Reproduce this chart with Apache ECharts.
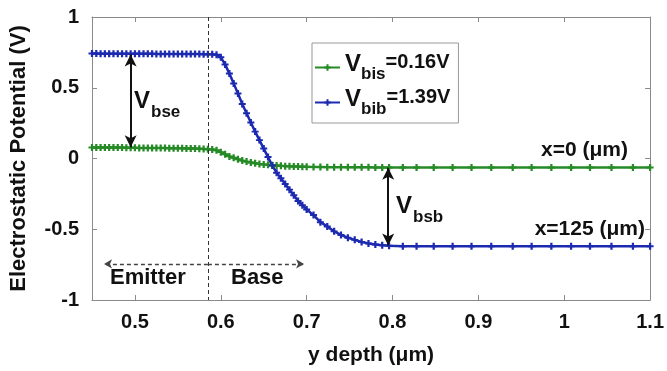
<!DOCTYPE html>
<html>
<head>
<meta charset="utf-8">
<script src="https://cdn.jsdelivr.net/npm/echarts@6/dist/echarts.min.js"></script>
<style>
  html, body { margin: 0; padding: 0; background: #fff; }
  #chart { width: 667px; height: 371px; }
</style>
</head>
<body>
<div id="chart"></div>
<script>
// y depth (um) sample points
const yDepth = [
  0.450, 0.455, 0.460, 0.465, 0.470, 0.475, 0.480, 0.485, 0.490, 0.495,
  0.500, 0.505, 0.510, 0.515, 0.520, 0.525, 0.530, 0.535, 0.540, 0.545,
  0.550, 0.555, 0.560, 0.565, 0.570, 0.575, 0.580, 0.585, 0.590,
  0.595, 0.600, 0.605, 0.610, 0.615, 0.620, 0.625, 0.630, 0.635, 0.640,
  0.645, 0.650, 0.655, 0.660, 0.665, 0.670, 0.675, 0.680, 0.685, 0.690,
  0.695, 0.700,
  0.708, 0.716, 0.724, 0.732, 0.740, 0.748, 0.756, 0.764, 0.772, 0.780,
  0.788, 0.796,
  0.812, 0.828, 0.848, 0.870, 0.892, 0.915, 0.940, 0.962, 0.985, 1.008,
  1.030, 1.055, 1.080, 1.100
];
// x = 0 um, V_bis = 0.16 V (green)
const potentialX0 = [
  0.078, 0.078, 0.078, 0.078, 0.078, 0.077, 0.077, 0.077, 0.076, 0.076,
  0.076, 0.075, 0.075, 0.075, 0.075, 0.074, 0.074, 0.074, 0.073, 0.073,
  0.072, 0.072, 0.071, 0.071, 0.070, 0.069, 0.068, 0.066, 0.064,
  0.058, 0.045, 0.030, 0.015, 0.005, -0.005, -0.015, -0.022, -0.028, -0.033,
  -0.038, -0.042, -0.045, -0.048, -0.050, -0.052, -0.054, -0.055, -0.056, -0.057,
  -0.058, -0.059,
  -0.060, -0.060, -0.061, -0.061, -0.061, -0.062, -0.062, -0.062, -0.062, -0.063,
  -0.063, -0.063,
  -0.063, -0.063, -0.063, -0.063, -0.063, -0.063, -0.063, -0.063, -0.063, -0.063,
  -0.063, -0.063, -0.063, -0.063
];
// x = 125 um, V_bib = 1.39 V (blue)
const potentialX125 = [
  0.742, 0.742, 0.741, 0.741, 0.741, 0.740, 0.740, 0.740, 0.740, 0.740,
  0.740, 0.740, 0.740, 0.740, 0.740, 0.739, 0.739, 0.739, 0.739, 0.739,
  0.739, 0.738, 0.738, 0.738, 0.738, 0.738, 0.737, 0.737, 0.736,
  0.733, 0.715, 0.665, 0.600, 0.530, 0.460, 0.385, 0.320, 0.255, 0.190,
  0.130, 0.070, 0.010, -0.050, -0.100, -0.140, -0.180, -0.220, -0.260, -0.300,
  -0.330, -0.360,
  -0.400, -0.450, -0.480, -0.515, -0.540, -0.560, -0.575, -0.590, -0.600, -0.608,
  -0.613, -0.617,
  -0.620, -0.620, -0.620, -0.620, -0.620, -0.620, -0.620, -0.620, -0.620, -0.620,
  -0.620, -0.620, -0.620, -0.620
];

const seriesNames = ["Vbis", "Vbib"];
const legendSub = ["bis", "bib"];
const legendValue = ["=0.16V", "=1.39V"];
const xTicks = [0.5, 0.6, 0.7, 0.8, 0.9, 1, 1.1];

// annotation positions in data coordinates
const junctionDepth = 0.585;
const vbseArrow = [[0.495, 0.735], [0.495, 0.08]];
const vbsbArrow = [[0.795, -0.066], [0.795, -0.615]];
const emitterArrow = [[junctionDepth, -0.745], [0.464, -0.745]];
const baseArrow = [[junctionDepth, -0.745], [0.697, -0.745]];

const FONT = "'Liberation Sans', Arial, sans-serif";
const BLUE = "#1c2ab0";
const GREEN = "#268a26";
const PLUS = "path://M3.4,0H6.6V10H3.4Z M0,3.6H10V6.4H0Z";

const chart = echarts.init(document.getElementById("chart"), null, { renderer: "canvas" });

function pairs(ys) {
  return yDepth.map((x, i) => [x, ys[i]]);
}

function axisBase(extra) {
  return Object.assign({
    axisLine: { show: true, onZero: false, lineStyle: { color: "#8a8a8a", width: 1 } },
    axisTick: { show: true, inside: true, length: 5, lineStyle: { color: "#8a8a8a" } },
    splitLine: { show: false }
  }, extra);
}

const arrowLine = { color: "#111", width: 2, type: "solid" };
const dashArrow = { color: "#444", width: 1.3, type: [4, 3] };

chart.setOption({
  animation: false,
  textStyle: { fontFamily: FONT },
  grid: { left: 90, right: 16, top: 17, bottom: 71 },
  xAxis: [
    axisBase({
      type: "value", min: 0.45, max: 1.1, position: "bottom",
      name: "y depth (μm)", nameLocation: "middle", nameGap: 45,
      nameTextStyle: { fontSize: 21, fontWeight: "bold", color: "#111", fontFamily: FONT },
      axisTick: { show: true, inside: true, length: 5, lineStyle: { color: "#8a8a8a" }, customValues: xTicks },
      axisLabel: { customValues: xTicks, fontSize: 20, fontWeight: "bold", color: "#111", margin: 12, fontFamily: FONT }
    }),
    axisBase({
      type: "value", min: 0.45, max: 1.1, position: "top",
      axisTick: { show: true, inside: true, length: 5, lineStyle: { color: "#8a8a8a" }, customValues: xTicks },
      axisLabel: { show: false }
    })
  ],
  yAxis: [
    axisBase({
      type: "value", min: -1, max: 1, interval: 0.5, position: "left",
      name: "Electrostatic Potential (V)", nameLocation: "middle", nameGap: 62,
      nameTextStyle: { fontSize: 22, fontWeight: "bold", color: "#111", fontFamily: FONT },
      axisLabel: { fontSize: 20, fontWeight: "bold", color: "#111", margin: 13, fontFamily: FONT }
    }),
    axisBase({
      type: "value", min: -1, max: 1, interval: 0.5, position: "right",
      axisLabel: { show: false }
    })
  ],
  legend: {
    data: seriesNames,
    orient: "vertical",
    left: 312, top: 43,
    itemWidth: 25, itemHeight: 8, itemGap: 4,
    padding: [9, 8, 5, 2],
    borderColor: "#999", borderWidth: 1, borderRadius: 0,
    backgroundColor: "#fff",
    formatter: (name) => {
      const i = seriesNames.indexOf(name);
      return `{v|V}{s|${legendSub[i]}}{n|${legendValue[i]}}`;
    },
    textStyle: {
      fontFamily: FONT, fontWeight: "bold", color: "#111",
      rich: {
        v: { fontSize: 24, fontWeight: "bold", fontFamily: FONT, lineHeight: 30, verticalAlign: "top", color: "#111" },
        s: { fontSize: 17, fontWeight: "bold", fontFamily: FONT, lineHeight: 20, padding: [14, 0, 0, 0], color: "#111" },
        n: { fontSize: 20, fontWeight: "bold", fontFamily: FONT, lineHeight: 30, verticalAlign: "top", color: "#111" }
      }
    }
  },
  series: [
    {
      name: seriesNames[0], type: "line", data: pairs(potentialX0),
      color: GREEN, lineStyle: { color: GREEN, width: 2.5 },
      symbol: PLUS, symbolSize: 7, showSymbol: true, showAllSymbol: true,
      itemStyle: { color: GREEN },
      markLine: {
        silent: true, animation: false,
        label: { show: false },
        data: [
          [{ coord: [junctionDepth, 1], symbol: "none", lineStyle: { color: "#333", width: 1, type: [4, 3] } },
           { coord: [junctionDepth, -1], symbol: "none" }],
          [{ coord: vbseArrow[0], symbol: "arrow", symbolSize: [9, 12], lineStyle: arrowLine },
           { coord: vbseArrow[1], symbol: "arrow", symbolSize: [9, 12] }],
          [{ coord: vbsbArrow[0], symbol: "arrow", symbolSize: [9, 12], lineStyle: arrowLine },
           { coord: vbsbArrow[1], symbol: "arrow", symbolSize: [9, 12] }],
          [{ coord: emitterArrow[0], symbol: "none", lineStyle: dashArrow },
           { coord: emitterArrow[1], symbol: "arrow", symbolSize: [7, 8] }],
          [{ coord: baseArrow[0], symbol: "none", lineStyle: dashArrow },
           { coord: baseArrow[1], symbol: "arrow", symbolSize: [7, 8] }]
        ]
      }
    },
    {
      name: seriesNames[1], type: "line", data: pairs(potentialX125),
      color: BLUE, lineStyle: { color: BLUE, width: 2.5 },
      symbol: PLUS, symbolSize: 7, showSymbol: true, showAllSymbol: true,
      itemStyle: { color: BLUE }
    }
  ],
  graphic: [
    { type: "text", left: 134, top: 89, style: { text: "V", font: `bold 24px ${FONT}`, fill: "#111" } },
    { type: "text", left: 151, top: 104, style: { text: "bse", font: `bold 17px ${FONT}`, fill: "#111" } },
    { type: "text", left: 396, top: 194, style: { text: "V", font: `bold 24px ${FONT}`, fill: "#111" } },
    { type: "text", left: 413, top: 209, style: { text: "bsb", font: `bold 17px ${FONT}`, fill: "#111" } },
    { type: "text", right: 39, top: 140, style: { text: "x=0 (μm)", font: `bold 21px ${FONT}`, fill: "#111" } },
    { type: "text", right: 22, top: 219, style: { text: "x=125 (μm)", font: `bold 21px ${FONT}`, fill: "#111" } },
    { type: "text", left: 110, top: 267, style: { text: "Emitter", font: `bold 22px ${FONT}`, fill: "#111" } },
    { type: "text", left: 231, top: 267, style: { text: "Base", font: `bold 22px ${FONT}`, fill: "#111" } }
  ]
});
</script>
</body>
</html>
